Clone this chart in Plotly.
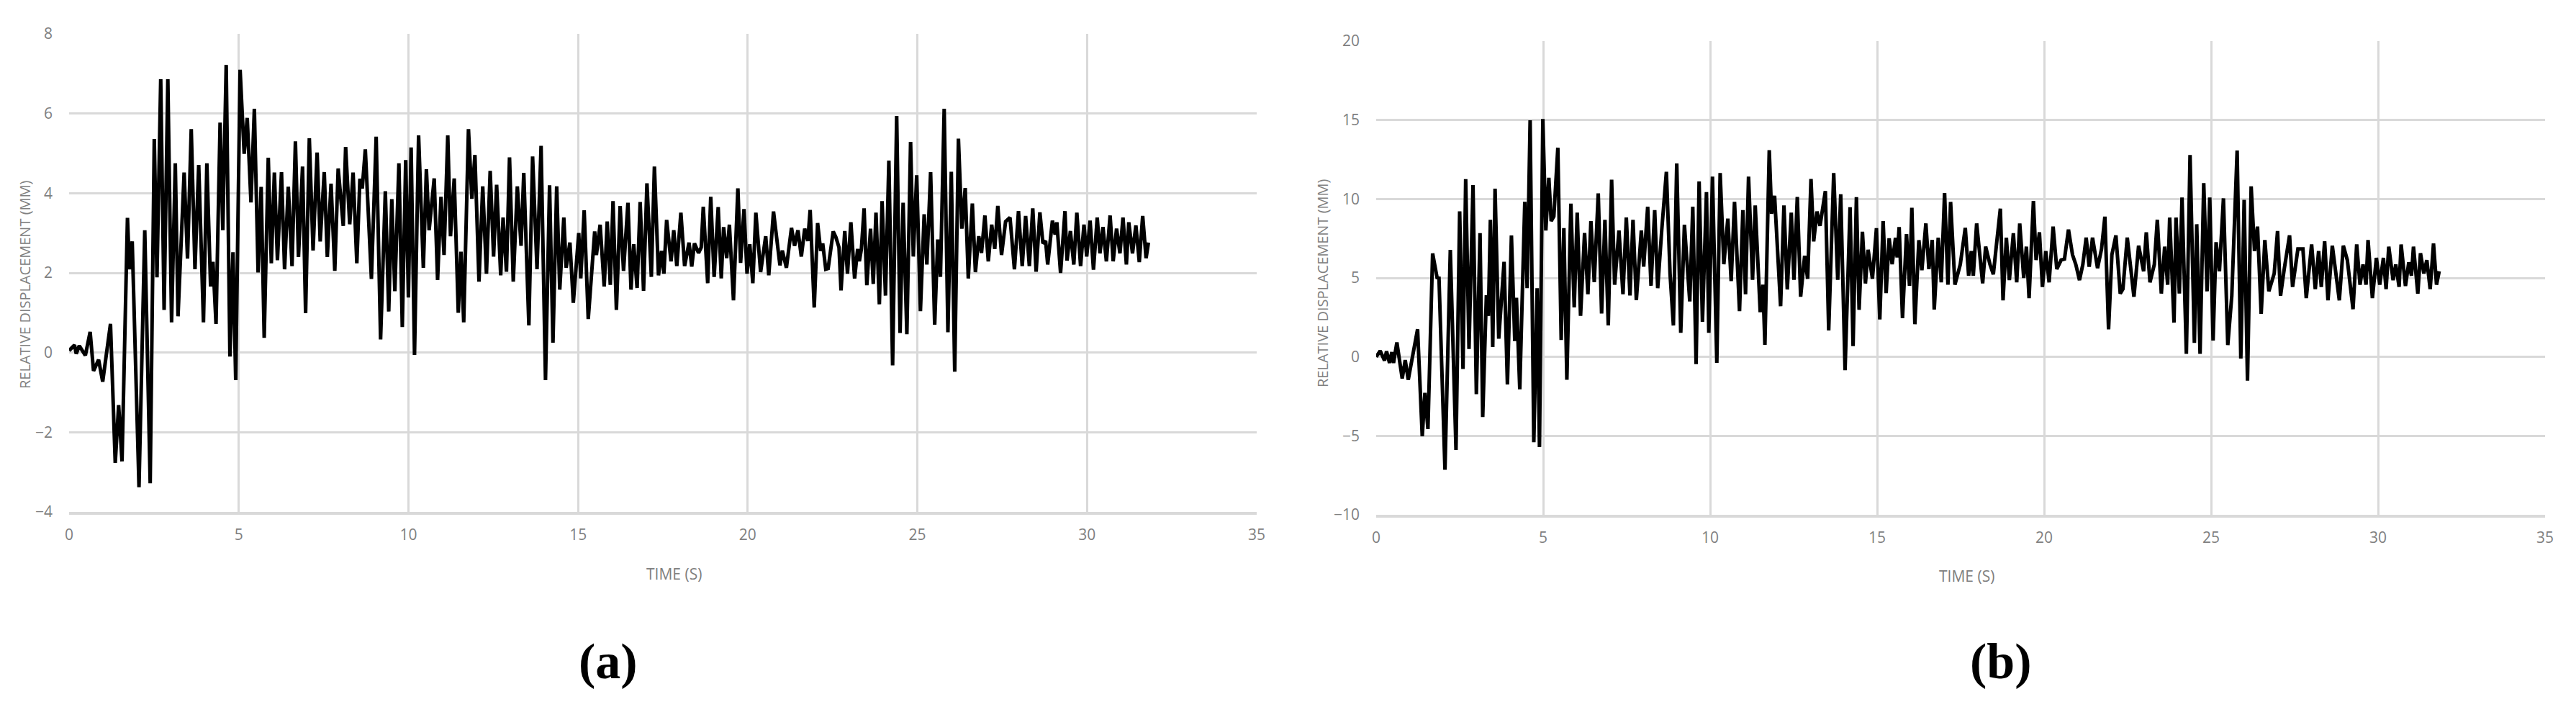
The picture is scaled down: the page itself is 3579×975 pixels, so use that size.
import plotly.graph_objects as go

# (a) relative displacement time history
time_a = [
    0.00, 0.16, 0.21, 0.30, 0.48, 0.62, 0.72, 0.87, 0.99, 1.22,
    1.36, 1.46, 1.56, 1.72, 1.78, 1.86, 2.06, 2.23, 2.39, 2.51,
    2.59, 2.70, 2.80, 2.91, 3.02, 3.13, 3.21, 3.39, 3.49, 3.60,
    3.71, 3.82, 3.96, 4.06, 4.17, 4.24, 4.33, 4.45, 4.53, 4.63,
    4.74, 4.83, 4.91, 5.04, 5.16, 5.25, 5.36, 5.46, 5.57, 5.66,
    5.75, 5.87, 5.96, 6.05, 6.14, 6.26, 6.35, 6.46, 6.57, 6.67,
    6.76, 6.88, 6.97, 7.08, 7.19, 7.31, 7.40, 7.52, 7.61, 7.72,
    7.83, 7.93, 8.08, 8.15, 8.27, 8.37, 8.48, 8.57, 8.64, 8.73,
    8.91, 9.05, 9.18, 9.32, 9.42, 9.51, 9.60, 9.72, 9.82, 9.92,
    10.00, 10.08, 10.18, 10.30, 10.44, 10.53, 10.61, 10.76, 10.86, 10.96,
    11.05, 11.16, 11.24, 11.35, 11.47, 11.55, 11.63, 11.77, 11.87, 11.96,
    12.08, 12.19, 12.30, 12.41, 12.51, 12.60, 12.72, 12.79, 12.89, 12.98,
    13.09, 13.21, 13.32, 13.40, 13.55, 13.66, 13.79, 13.91, 14.04, 14.16,
    14.26, 14.37, 14.46, 14.58, 14.65, 14.76, 14.86, 15.02, 15.08, 15.18,
    15.30, 15.49, 15.54, 15.65, 15.77, 15.86, 15.95, 16.03, 16.13, 16.24,
    16.34, 16.47, 16.56, 16.64, 16.74, 16.83, 16.93, 17.03, 17.16, 17.25,
    17.37, 17.46, 17.53, 17.61, 17.74, 17.82, 17.91, 18.03, 18.14, 18.27,
    18.35, 18.43, 18.55, 18.63, 18.69, 18.82, 18.91, 19.01, 19.13, 19.22,
    19.29, 19.38, 19.46, 19.58, 19.71, 19.79, 19.89, 19.98, 20.06, 20.15,
    20.24, 20.38, 20.53, 20.62, 20.76, 20.95, 21.02, 21.14, 21.29, 21.38,
    21.48, 21.58, 21.68, 21.77, 21.84, 21.96, 22.06, 22.15, 22.21, 22.30,
    22.37, 22.52, 22.60, 22.69, 22.75, 22.86, 22.94, 23.04, 23.15, 23.24,
    23.29, 23.35, 23.43, 23.51, 23.62, 23.70, 23.78, 23.88, 23.96, 24.06,
    24.16, 24.27, 24.39, 24.49, 24.58, 24.69, 24.80, 24.88, 24.98, 25.09,
    25.20, 25.28, 25.39, 25.51, 25.60, 25.68, 25.79, 25.90, 26.00, 26.10,
    26.21, 26.31, 26.41, 26.50, 26.62, 26.71, 26.81, 26.89, 26.99, 27.09,
    27.19, 27.28, 27.37, 27.48, 27.60, 27.73, 27.86, 27.98, 28.09, 28.19,
    28.30, 28.40, 28.50, 28.61, 28.70, 28.78, 28.84, 28.98, 29.06, 29.11,
    29.22, 29.35, 29.41, 29.51, 29.61, 29.70, 29.81, 29.91, 29.99, 30.09,
    30.19, 30.30, 30.38, 30.47, 30.57, 30.68, 30.77, 30.87, 30.97, 31.06,
    31.16, 31.23, 31.34, 31.44, 31.54, 31.64, 31.74, 31.81,
]
disp_a = [
    0.05, 0.19, -0.03, 0.17, -0.07, 0.52, -0.46, -0.18, -0.73, 0.72,
    -2.77, -1.32, -2.73, 3.38, 2.09, 2.79, -3.38, 3.07, -3.28, 5.36,
    1.89, 6.86, 1.07, 6.86, 0.76, 4.75, 0.91, 4.52, 2.36, 5.61,
    2.09, 4.71, 0.76, 4.75, 1.66, 2.28, 0.72, 5.77, 3.07, 7.22,
    -0.10, 2.52, -0.69, 7.10, 4.99, 5.89, 3.77, 6.12, 2.01, 4.16,
    0.37, 4.89, 2.24, 4.52, 2.32, 4.53, 2.09, 4.16, 2.17, 5.30,
    2.40, 4.67, 0.99, 5.38, 2.56, 5.02, 2.79, 4.53, 2.40, 4.24,
    2.05, 4.62, 3.18, 5.16, 3.22, 4.52, 2.24, 4.36, 4.12, 5.10,
    1.85, 5.42, 0.33, 4.05, 1.03, 3.85, 1.54, 4.75, 0.64, 4.83,
    1.38, 5.15, -0.06, 5.45, 2.13, 4.60, 3.07, 4.37, 1.82, 3.91,
    2.45, 5.45, 2.92, 4.37, 1.00, 2.53, 0.76, 5.61, 3.86, 4.96,
    1.78, 4.17, 1.98, 4.56, 2.41, 4.21, 1.94, 3.39, 2.03, 4.90,
    1.78, 4.17, 2.68, 4.51, 0.68, 4.92, 2.09, 5.19, -0.69, 4.20,
    0.25, 4.17, 1.58, 3.39, 2.13, 2.76, 1.25, 3.00, 1.86, 3.57,
    0.84, 3.04, 2.45, 3.21, 1.66, 3.29, 1.70, 3.80, 1.07, 3.68,
    2.05, 3.76, 1.58, 2.72, 1.62, 3.78, 1.55, 4.25, 1.90, 4.67,
    1.94, 2.55, 1.98, 3.33, 2.29, 3.07, 2.17, 3.51, 2.17, 2.76,
    2.16, 2.74, 2.50, 2.64, 3.66, 1.74, 3.91, 1.90, 3.65, 1.86,
    3.15, 2.37, 3.21, 1.31, 4.12, 2.25, 3.60, 1.98, 2.72, 1.74,
    3.51, 2.02, 2.92, 1.94, 3.54, 2.19, 2.56, 2.13, 3.13, 2.68,
    3.07, 2.41, 3.11, 2.80, 3.58, 1.13, 3.25, 2.55, 2.74, 2.09,
    2.11, 3.04, 2.89, 2.64, 1.56, 3.05, 1.98, 3.27, 1.86, 2.60,
    2.29, 2.60, 3.62, 1.69, 3.11, 1.72, 3.51, 1.21, 3.80, 1.43,
    4.82, -0.32, 5.94, 0.49, 3.76, 0.46, 5.29, 2.41, 4.45, 1.04,
    3.47, 2.21, 4.53, 0.70, 2.84, 1.90, 6.12, 0.51, 4.54, -0.48,
    5.37, 3.11, 4.13, 1.86, 3.74, 2.02, 2.92, 2.50, 3.44, 2.29,
    3.21, 2.60, 3.68, 2.45, 3.29, 3.39, 2.09, 3.55, 2.17, 3.43,
    2.17, 3.62, 2.03, 3.52, 2.74, 2.80, 2.21, 3.31, 2.96, 3.27,
    2.00, 3.55, 2.31, 3.05, 2.21, 3.51, 2.17, 3.21, 2.41, 3.31,
    2.08, 3.39, 2.49, 3.15, 2.29, 3.44, 2.29, 3.11, 2.49, 3.39,
    2.21, 3.27, 2.49, 3.19, 2.27, 3.43, 2.37, 2.76,
]

# (b) relative displacement time history
time_b = [
    0.00, 0.12, 0.25, 0.31, 0.40, 0.47, 0.52, 0.62, 0.78, 0.87,
    0.96, 1.24, 1.38, 1.46, 1.55, 1.69, 1.83, 1.88, 2.06, 2.22,
    2.39, 2.50, 2.60, 2.68, 2.78, 2.90, 3.00, 3.11, 3.19, 3.30,
    3.36, 3.42, 3.49, 3.56, 3.67, 3.83, 3.93, 4.05, 4.15, 4.20,
    4.30, 4.45, 4.52, 4.61, 4.72, 4.82, 4.89, 4.99, 5.08, 5.17,
    5.24, 5.32, 5.44, 5.54, 5.62, 5.71, 5.83, 5.93, 6.02, 6.12,
    6.24, 6.34, 6.43, 6.53, 6.65, 6.75, 6.85, 6.95, 7.05, 7.14,
    7.27, 7.39, 7.49, 7.60, 7.69, 7.79, 7.94, 8.01, 8.13, 8.23,
    8.34, 8.43, 8.55, 8.69, 8.80, 8.90, 9.00, 9.12, 9.23, 9.39,
    9.48, 9.58, 9.67, 9.77, 9.89, 9.96, 10.07, 10.20, 10.30, 10.41,
    10.53, 10.63, 10.73, 10.88, 10.98, 11.06, 11.15, 11.27, 11.35, 11.50,
    11.58, 11.64, 11.77, 11.84, 11.93, 12.11, 12.21, 12.31, 12.43, 12.51,
    12.61, 12.71, 12.83, 12.92, 13.02, 13.10, 13.20, 13.29, 13.45, 13.55,
    13.70, 13.82, 13.91, 14.04, 14.19, 14.28, 14.38, 14.46, 14.56, 14.65,
    14.73, 14.86, 14.98, 15.08, 15.18, 15.27, 15.36, 15.45, 15.55, 15.60,
    15.66, 15.76, 15.88, 15.97, 16.04, 16.13, 16.25, 16.34, 16.46, 16.55,
    16.65, 16.71, 16.83, 16.92, 17.02, 17.12, 17.20, 17.33, 17.49, 17.64,
    17.74, 17.82, 17.88, 17.98, 18.16, 18.25, 18.38, 18.48, 18.56, 18.69,
    18.77, 18.87, 18.96, 19.08, 19.18, 19.27, 19.39, 19.47, 19.55, 19.68,
    19.76, 19.86, 19.95, 20.05, 20.15, 20.27, 20.38, 20.51, 20.61, 20.73,
    20.85, 20.95, 21.06, 21.16, 21.26, 21.35, 21.45, 21.60, 21.72, 21.82,
    21.93, 22.03, 22.15, 22.28, 22.36, 22.49, 22.69, 22.83, 22.98, 23.06,
    23.17, 23.30, 23.39, 23.51, 23.61, 23.70, 23.76, 23.89, 23.95, 24.05,
    24.13, 24.26, 24.37, 24.50, 24.57, 24.67, 24.78, 24.88, 24.96, 25.06,
    25.15, 25.25, 25.37, 25.50, 25.62, 25.78, 25.89, 25.99, 26.09, 26.20,
    26.30, 26.39, 26.50, 26.61, 26.73, 26.89, 26.99, 27.08, 27.19, 27.35,
    27.44, 27.60, 27.75, 27.85, 28.01, 28.12, 28.22, 28.30, 28.40, 28.50,
    28.63, 28.84, 28.96, 29.08, 29.25, 29.36, 29.46, 29.55, 29.64, 29.70,
    29.83, 29.95, 30.05, 30.16, 30.24, 30.32, 30.45, 30.53, 30.63, 30.69,
    30.82, 30.92, 31.00, 31.06, 31.19, 31.27, 31.37, 31.46, 31.56, 31.66,
    31.75, 31.83,
]
disp_b = [
    0.00, 0.38, -0.23, 0.35, -0.38, 0.30, -0.38, 0.91, -1.37, -0.20,
    -1.45, 1.75, -5.02, -2.28, -4.57, 6.55, 4.95, 5.08, -7.15, 6.78,
    -5.89, 9.21, -0.76, 11.26, 0.50, 10.88, -2.36, 7.84, -3.81, 3.90,
    2.60, 8.68, 0.62, 10.65, 1.15, 6.02, -1.75, 7.69, 1.00, 3.74,
    -2.05, 9.82, 4.35, 14.98, -5.40, 4.35, -5.71, 15.06, 8.00, 11.34,
    8.60, 8.90, 13.24, 1.07, 8.15, -1.45, 9.70, 3.13, 9.13, 2.60,
    7.84, 3.97, 8.60, 4.73, 10.35, 2.75, 8.68, 1.99, 11.22, 4.57,
    8.00, 3.97, 8.83, 3.89, 8.68, 3.59, 8.00, 5.71, 9.51, 4.50,
    9.29, 4.35, 8.00, 11.72, 5.26, 1.99, 12.25, 1.53, 8.37, 3.51,
    9.51, -0.46, 11.11, 2.22, 10.43, 1.53, 11.41, -0.38, 11.64, 5.87,
    8.75, 4.80, 9.82, 2.90, 9.29, 3.97, 11.41, 4.88, 9.59, 2.83,
    4.57, 0.76, 13.09, 9.06, 10.20, 3.21, 9.59, 4.27, 9.13, 4.88,
    10.12, 3.81, 6.40, 4.95, 11.26, 7.31, 9.21, 8.30, 10.50, 1.67,
    11.64, 4.88, 10.30, -0.84, 9.48, 0.68, 10.12, 2.98, 7.92, 4.65,
    6.78, 4.95, 8.15, 2.37, 8.60, 4.04, 7.51, 5.87, 7.54, 6.30,
    8.22, 2.45, 7.77, 4.50, 9.44, 2.07, 7.39, 5.49, 8.45, 5.56,
    7.40, 3.00, 7.55, 4.72, 10.38, 4.57, 9.81, 4.57, 5.85, 8.17,
    5.14, 6.70, 5.14, 8.45, 4.66, 6.98, 5.85, 5.23, 6.84, 9.39,
    3.58, 7.55, 4.86, 7.83, 4.72, 8.45, 5.00, 6.98, 3.72, 9.87,
    6.13, 7.89, 4.43, 6.70, 4.72, 8.25, 5.56, 6.13, 6.19, 8.06,
    6.47, 5.85, 4.86, 5.85, 7.55, 5.71, 7.55, 5.62, 6.84, 8.88,
    1.74, 6.47, 7.69, 4.01, 4.29, 7.55, 3.81, 7.04, 5.42, 7.89,
    4.72, 5.85, 8.68, 4.01, 6.98, 4.57, 8.82, 2.17, 8.82, 4.01,
    10.09, 0.19, 12.78, 0.89, 8.40, 0.19, 11.00, 4.15, 10.09, 1.04,
    7.26, 5.42, 10.04, 0.75, 3.87, 13.07, -0.10, 9.95, -1.51, 10.80,
    6.70, 8.25, 2.73, 7.40, 4.15, 5.28, 7.97, 3.87, 5.56, 7.69,
    4.43, 6.84, 6.84, 3.72, 7.12, 4.29, 6.70, 4.43, 7.32, 3.58,
    7.04, 3.58, 7.04, 6.13, 3.02, 7.12, 4.57, 5.85, 4.57, 7.40,
    3.72, 6.27, 4.57, 6.27, 4.29, 6.98, 4.86, 5.85, 4.43, 7.12,
    4.49, 5.99, 5.14, 6.98, 4.01, 6.56, 5.28, 6.13, 4.29, 7.18,
    4.57, 5.42,
]

x_ticks = [0, 5, 10, 15, 20, 25, 30, 35]
y_ticks_a = [-4, -2, 0, 2, 4, 6, 8]
y_ticks_b = [-10, -5, 0, 5, 10, 15, 20]
x_title = 'TIME (S)'
y_title = 'RELATIVE DISPLACEMENT (MM)'
panel_labels = ['(a)', '(b)']

# the page body has an 8px margin, so the figure is made that much smaller
# and every page position below is shifted back by it
OFF = 8
W, H = 3579 - OFF, 975 - OFF
GRID = '#d9d9d9'
TXT = '#808080'


def px(x):
    return (x - OFF) / W


def py(y):
    return 1 - (y - OFF) / H


def axis_style(tickvals, rng):
    return dict(
        range=rng, tickvals=tickvals, showgrid=True, gridcolor=GRID,
        gridwidth=2.5, zeroline=False, showline=False, ticks='',
        automargin=False,
        tickfont=dict(family='Open Sans', size=21, color=TXT),
    )


def label(x, y, text, size, color, family='Open Sans', angle=0):
    # centred text box placed in page pixels
    return dict(x=px(x), y=py(y), xref='paper', yref='paper', text=text,
                xanchor='center', yanchor='middle', textangle=angle,
                showarrow=False,
                font=dict(family=family, size=size, color=color))


fig = go.Figure()
fig.add_trace(go.Scatter(x=time_a, y=disp_a, mode='lines',
                         line=dict(color='black', width=5),
                         xaxis='x', yaxis='y', showlegend=False))
fig.add_trace(go.Scatter(x=time_b, y=disp_b, mode='lines',
                         line=dict(color='black', width=5),
                         xaxis='x2', yaxis='y2', showlegend=False))

xa = axis_style(x_ticks, [0, 35])
xa.update(domain=[px(96), px(1746)], anchor='y', ticklabelstandoff=10,
          showline=True, linecolor=GRID, linewidth=3.5)
ya = axis_style(y_ticks_a, [-4, 8])
ya.update(domain=[py(711), py(47)], anchor='x', ticklabelstandoff=22)
xb = axis_style(x_ticks, [0, 35])
xb.update(domain=[px(1912), px(3536)], anchor='y2', ticklabelstandoff=10,
          showline=True, linecolor=GRID, linewidth=3.5)
yb = axis_style(y_ticks_b, [-10, 20])
yb.update(domain=[py(715), py(57)], anchor='x2', ticklabelstandoff=22)

annotations = [
    label(34, 395, y_title, 20, TXT, angle=-90),
    label(1837, 393, y_title, 20, TXT, angle=-90),
    label(936, 797, x_title, 21, TXT),
    label(2732, 800, x_title, 21, TXT),
    label(845, 918, '<b>' + panel_labels[0] + '</b>', 70, 'black',
          family='Liberation Serif'),
    label(2780, 918, '<b>' + panel_labels[1] + '</b>', 70, 'black',
          family='Liberation Serif'),
]

fig.update_layout(
    width=W, height=H, autosize=False,
    margin=dict(l=0, r=0, t=0, b=0, autoexpand=False),
    paper_bgcolor='white', plot_bgcolor='white',
    xaxis=xa, yaxis=ya, xaxis2=xb, yaxis2=yb,
    annotations=annotations,
)

fig.write_html('out.html')
